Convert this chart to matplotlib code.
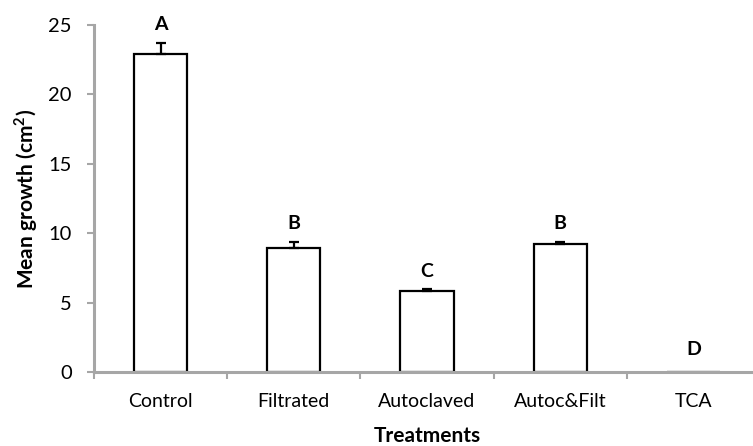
import matplotlib
matplotlib.use("Agg")
import matplotlib.pyplot as plt
import numpy as np

treatments = ["Control", "Filtrated", "Autoclaved", "Autoc&Filt", "TCA"]
mean_growth = [22.9, 8.9, 5.8, 9.2, 0.0]
std_err = [0.8, 0.5, 0.15, 0.15, 0.0]
letters = ["A", "B", "C", "B", "D"]

plt.rcParams["font.family"] = ["Lato", "DejaVu Sans"]
axis_gray = "#a6a6a6"

fig = plt.figure(figsize=(7.53, 4.46), dpi=100)
ax = fig.add_axes([94 / 753, 74 / 446, 666 / 753, 347 / 446])

x = np.arange(len(treatments))
ax.bar(x, mean_growth, width=0.4, color="white", edgecolor="black", linewidth=1.6, zorder=2)
ax.errorbar(x[:4], mean_growth[:4], yerr=[np.zeros(4), std_err[:4]], fmt="none",
            ecolor="black", elinewidth=1.6, capsize=3.5, capthick=1.6, zorder=3)

for xi, m, e, lab in zip(x, mean_growth, std_err, letters):
    off = 7 if m > 0 else 10
    ax.annotate(lab, (xi, m + e), xytext=(0, off), textcoords="offset points",
                ha="center", va="bottom", fontsize=14, fontweight="bold")

ax.set_xlim(-0.5, 4.5)
ax.set_ylim(0, 25)
ax.set_yticks([0, 5, 10, 15, 20, 25])
ax.set_xticks(x)
ax.set_xticklabels(treatments)
ax.set_xticks(np.arange(-0.5, 5, 1), minor=True)

ax.tick_params(axis="y", colors=axis_gray, labelcolor="black", labelsize=14.5, length=5, width=1.5, pad=11)
ax.tick_params(axis="x", which="major", length=0, labelsize=14, pad=15, labelcolor="black")
ax.tick_params(axis="x", which="minor", length=5, width=1.5, color=axis_gray)

for s in ["top", "right"]:
    ax.spines[s].set_visible(False)
for s in ["left", "bottom"]:
    ax.spines[s].set_color(axis_gray)
    ax.spines[s].set_linewidth(2.2)
    ax.spines[s].set_zorder(5)

ax.set_ylabel("Mean growth (cm$^\\mathregular{2}$)", fontsize=15, fontweight="bold", labelpad=6)
ax.set_xlabel("Treatments", fontsize=15, fontweight="bold", labelpad=12)

fig.savefig("out.png", dpi=100)
